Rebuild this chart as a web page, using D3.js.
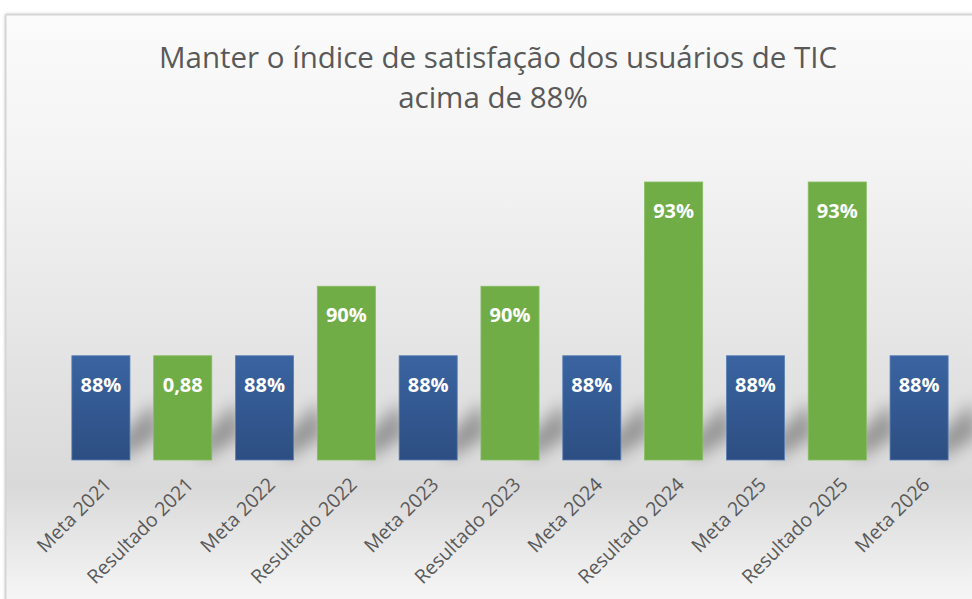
<!DOCTYPE html>
<html>
<head>
<meta charset="utf-8">
<script src="https://cdn.jsdelivr.net/npm/d3@7"></script>
<style>
  body { margin:0; background:#fff; overflow:hidden; }
  svg { display:block; }
</style>
</head>
<body>
<div id="result"></div>
<script>
(function(){
  'use strict';

  // data
  var categories = ["Meta 2021","Resultado 2021","Meta 2022","Resultado 2022","Meta 2023",
                    "Resultado 2023","Meta 2024","Resultado 2024","Meta 2025","Resultado 2025","Meta 2026"];
  var values     = [0.88,0.88,0.88,0.90,0.88,0.90,0.88,0.93,0.88,0.93,0.88];
  var kinds      = ["meta","res","meta","res","meta","res","meta","res","meta","res","meta"];
  var valueLabels= ["88%","0,88","88%","90%","88%","90%","88%","93%","88%","93%","88%"];
  var titleLines = ["Manter o índice de satisfação dos usuários de TIC","acima de 88%"];

  var width = 972, height = 599;
  var base = 460;

  var svg = d3.select("#result").append("svg")
    .attr("width", width).attr("height", height);

  var defs = svg.append("defs");

  var bg = defs.append("linearGradient").attr("id","bg")
    .attr("x1",0).attr("y1",0).attr("x2",0).attr("y2",1);
  bg.append("stop").attr("offset","0%").attr("stop-color","#fbfbfb");
  bg.append("stop").attr("offset","25%").attr("stop-color","#f3f3f3");
  bg.append("stop").attr("offset","76%").attr("stop-color","#d9d9d9");
  bg.append("stop").attr("offset","100%").attr("stop-color","#ffffff");

  var bl = defs.append("linearGradient").attr("id","blue")
    .attr("x1",0).attr("y1",0).attr("x2",0).attr("y2",1);
  bl.append("stop").attr("offset","0%").attr("stop-color","#3a64a1");
  bl.append("stop").attr("offset","100%").attr("stop-color","#2d4e82");

  var blur = defs.append("filter").attr("id","blur")
    .attr("x","-50%").attr("y","-50%").attr("width","200%").attr("height","200%");
  blur.append("feGaussianBlur").attr("stdDeviation",8);

  var fshadow = defs.append("filter").attr("id","fshadow")
    .attr("x","-5%").attr("y","-5%").attr("width","110%").attr("height","110%");
  fshadow.append("feGaussianBlur").attr("stdDeviation",1.5);

  // frame
  svg.append("rect")
    .attr("x",5).attr("y",14).attr("width",1000).attr("height",620)
    .attr("fill","#bbb").attr("filter","url(#fshadow)");
  svg.append("rect")
    .attr("x",6).attr("y",15).attr("width",1000).attr("height",620)
    .attr("fill","url(#bg)").attr("stroke","#d4d4d4");

  // title
  svg.append("text")
    .attr("x",497).attr("y",68)
    .attr("text-anchor","middle")
    .attr("fill","#595959")
    .style("font-family","'Open Sans', sans-serif")
    .style("font-size","29.5px")
    .selectAll("tspan").data(titleLines).enter().append("tspan")
      .attr("x",function(d,i){ return i ? 493 : 498; })
      .attr("dy",function(d,i){ return i ? 40 : 0; })
      .text(function(d){ return d; });

  var x = d3.scaleBand()
    .domain(categories)
    .range([60,960])
    .paddingInner(0.29)
    .paddingOuter(0.145);

  var y = d3.scaleLinear()
    .domain([0.85,0.93])
    .range([base,182]);

  var data = categories.map(function(c,i){
    return {cat:c, v:values[i], kind:kinds[i], label:valueLabels[i]};
  });

  // shadows behind bars
  svg.append("g").selectAll("path").data(data).enter().append("path")
    .attr("d",function(d){
      var x0 = x(d.cat) + x.bandwidth();
      return "M"+(x0-10)+","+base+
             "L"+(x0-10)+","+(base-22)+
             "L"+(x0+24)+","+(base-58)+
             "L"+(x0+30)+","+(base-24)+"Z";
    })
    .attr("fill","#000")
    .attr("opacity",0.32)
    .attr("filter","url(#blur)");

  // bars
  svg.append("g").selectAll("rect").data(data).enter().append("rect")
    .attr("x",function(d){ return x(d.cat); })
    .attr("y",function(d){ return y(d.v); })
    .attr("width",x.bandwidth())
    .attr("height",function(d){ return base - y(d.v); })
    .attr("fill",function(d){ return d.kind === "meta" ? "url(#blue)" : "#70ad47"; })
    .attr("stroke",function(d){ return d.kind === "meta" ? "#5a7fb5" : "#86bd62"; })
    .attr("stroke-width",0.8);

  // value labels
  svg.append("g").selectAll("text").data(data).enter().append("text")
    .attr("x",function(d){ return x(d.cat) + x.bandwidth()/2; })
    .attr("y",function(d){ return y(d.v) + 36; })
    .attr("text-anchor","middle")
    .attr("fill","#fff")
    .style("font-family","'Open Sans', sans-serif")
    .style("font-weight","bold")
    .style("font-size","20px")
    .text(function(d){ return d.label; });

  // x axis labels
  var xAxis = d3.axisBottom(x).tickSize(0).tickPadding(0);
  var gx = svg.append("g").attr("transform","translate(0,"+base+")").call(xAxis);
  gx.select(".domain").remove();
  gx.selectAll("text")
    .attr("fill","#595959")
    .style("font-family","'Open Sans', sans-serif")
    .style("font-size","19.5px")
    .attr("text-anchor","end")
    .attr("dy","0.35em")
    .attr("y",0)
    .attr("transform","translate(7,21) rotate(-45)");
})();
</script>
</body>
</html>
